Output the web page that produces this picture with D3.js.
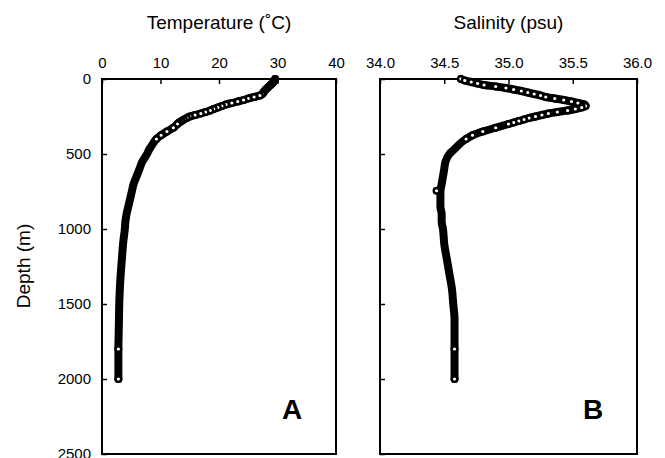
<!DOCTYPE html>
<html>
<head>
<meta charset="utf-8">
<script src="https://cdn.jsdelivr.net/npm/d3@7"></script>
<style>
  html, body { margin: 0; padding: 0; background: #fff; }
  svg { display: block; font-family: "Liberation Sans", Arial, sans-serif; }
</style>
</head>
<body>
<div id="chart"></div>
<script>
// depth of each reading (m)
const depths = [
  0, 10, 20, 30, 40, 50, 60, 70, 80, 90, 100, 110, 120, 130, 140, 150, 160, 170, 180, 190,
  200, 210, 220, 230, 240, 250, 260, 270, 280, 290, 300, 325, 350, 375, 400, 425, 450, 475,
  500, 550, 600, 650, 700, 750, 800, 850, 900, 950, 1000, 1100, 1200, 1300, 1400, 1500,
  1600, 1700, 1800, 1900, 2000
];

// temperature profile (deg C)
const temperature = [
  29.6, 29.5, 29.3, 29.1, 28.8, 28.5, 28.3, 28.0, 27.8, 27.6, 27.4, 27.0, 26.0, 25.0, 24.2, 23.2, 22.2, 21.2, 20.5, 19.8,
  19.1, 18.5, 17.7, 16.9, 15.9, 15.0, 14.5, 14.0, 13.6, 13.2, 12.9, 12.2, 11.1, 10.1, 9.3, 8.8, 8.4, 8.0,
  7.7, 6.9, 6.4, 5.9, 5.4, 5.1, 4.8, 4.5, 4.2, 4.0, 3.9, 3.6, 3.4, 3.2, 3.05, 2.95,
  2.9, 2.85, 2.8, 2.8, 2.8
];

// salinity profile (psu)
const salinity = [
  34.63, 34.66, 34.71, 34.76, 34.81, 34.90, 34.98, 35.04, 35.10, 35.15, 35.20, 35.25, 35.29, 35.36, 35.43, 35.49, 35.54, 35.59, 35.60, 35.57,
  35.52, 35.46, 35.38, 35.31, 35.26, 35.21, 35.16, 35.12, 35.08, 35.04, 35.00, 34.90, 34.80, 34.72, 34.67, 34.63, 34.60, 34.57,
  34.54, 34.51, 34.50, 34.49, 34.48, 34.47, 34.47, 34.47, 34.48, 34.48, 34.49, 34.50, 34.52, 34.54, 34.56, 34.57,
  34.58, 34.58, 34.58, 34.58, 34.58
];

// stray salinity reading sitting off the main trace
const salStrayDepth = [745];
const salStray = [34.44];

const depthTicks = [0, 500, 1000, 1500, 2000, 2500];
const tempTicks = [0, 10, 20, 30, 40];
const salTicks = [34.0, 34.5, 35.0, 35.5, 36.0];

const W = 665, H = 458;

const svg = d3.select('#chart')
  .append('svg')
  .attr('width', W)
  .attr('height', H);

// in the deep part the markers overlap into a solid band, only a few show open
const openMarker = d => d.depth <= 420 || d.depth === 1800 || d.depth === 2000;

class ProfilePanel {
  constructor(_config, _data, _stray) {
    this.config = {
      left: _config.left,
      right: _config.right,
      top: 79,
      bottom: 454,
      domain: _config.domain,
      ticks: _config.ticks,
      format: _config.format,
      title: _config.title,
      letter: _config.letter,
      depthLabels: _config.depthLabels
    };
    this.data = _data;
    this.stray = _stray || [];
    this.initVis();
  }

  initVis() {
    const vis = this;
    const c = vis.config;

    vis.width = c.right - c.left;
    vis.height = c.bottom - c.top;

    vis.chart = svg.append('g')
      .attr('transform', `translate(${c.left},${c.top})`);

    vis.xScale = d3.scaleLinear().domain(c.domain).range([0, vis.width]);
    vis.yScale = d3.scaleLinear().domain([0, 2500]).range([0, vis.height]);

    // ticks point into the frame
    const xAxis = d3.axisTop(vis.xScale)
      .tickValues(c.ticks)
      .tickFormat(d3.format(c.format))
      .tickSizeInner(-5)
      .tickSizeOuter(0)
      .tickPadding(11);

    const yAxis = d3.axisLeft(vis.yScale)
      .tickValues(depthTicks)
      .tickFormat(c.depthLabels ? d3.format('d') : '')
      .tickSizeInner(-5)
      .tickSizeOuter(0)
      .tickPadding(11);

    const xg = vis.chart.append('g').call(xAxis);
    const yg = vis.chart.append('g').call(yAxis);
    [xg, yg].forEach(g => {
      g.select('.domain').remove();
      g.selectAll('line').attr('stroke', '#000').attr('stroke-width', 1.5);
      g.selectAll('text')
        .attr('fill', '#000')
        .style('font-size', '15px')
        .style('font-family', '"Liberation Sans", Arial, sans-serif');
    });

    vis.chart.append('rect')
      .attr('width', vis.width)
      .attr('height', vis.height)
      .attr('fill', 'none')
      .attr('stroke', '#000')
      .attr('stroke-width', 2);

    svg.append('text')
      .attr('x', c.left + vis.width / 2)
      .attr('y', 29)
      .attr('text-anchor', 'middle')
      .style('font-size', '19px')
      .text(c.title);

    vis.chart.append('text')
      .attr('x', vis.width - 44)
      .attr('y', 340)
      .attr('text-anchor', 'middle')
      .style('font-size', '28px')
      .style('font-weight', 'bold')
      .text(c.letter);

    vis.renderVis();
  }

  renderVis() {
    const vis = this;

    const line = d3.line()
      .x(d => vis.xScale(d.v))
      .y(d => vis.yScale(d.depth))
      .curve(d3.curveMonotoneY);

    vis.chart.append('path')
      .datum(vis.data)
      .attr('d', line)
      .attr('fill', 'none')
      .attr('stroke', '#000')
      .attr('stroke-width', 8)
      .attr('stroke-linejoin', 'round')
      .attr('stroke-linecap', 'round');

    vis.chart.selectAll('.dot')
      .data(vis.data.filter(openMarker).concat(vis.stray))
      .enter()
      .append('circle')
      .attr('class', 'dot')
      .attr('cx', d => vis.xScale(d.v))
      .attr('cy', d => vis.yScale(d.depth))
      .attr('r', 2.8)
      .attr('fill', '#fff')
      .attr('stroke', '#000')
      .attr('stroke-width', 2.4);
  }
}

const tempData = depths.map((d, i) => ({ depth: d, v: temperature[i] }));
const salData = depths.map((d, i) => ({ depth: d, v: salinity[i] }));
const strayData = salStrayDepth.map((d, i) => ({ depth: d, v: salStray[i] }));

new ProfilePanel({
  left: 102, right: 336,
  domain: [0, 40], ticks: tempTicks, format: 'd',
  title: 'Temperature (˚C)', letter: 'A', depthLabels: true
}, tempData);

new ProfilePanel({
  left: 380, right: 637,
  domain: [34, 36], ticks: salTicks, format: '.1f',
  title: 'Salinity (psu)', letter: 'B', depthLabels: false
}, salData, strayData);

svg.append('text')
  .attr('transform', 'translate(30,266) rotate(-90)')
  .attr('text-anchor', 'middle')
  .style('font-size', '19px')
  .text('Depth (m)');
</script>
</body>
</html>
